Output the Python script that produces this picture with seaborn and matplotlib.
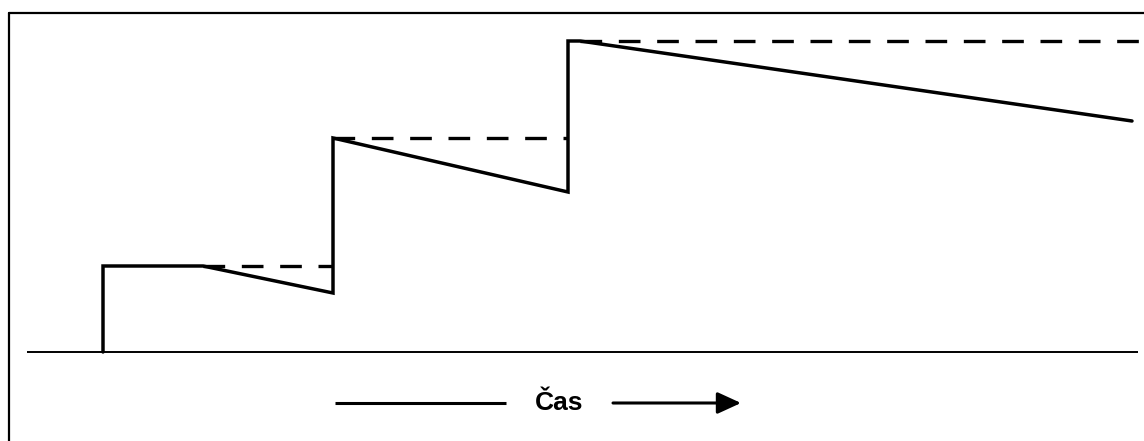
import matplotlib
matplotlib.use("Agg")
import matplotlib.pyplot as plt
import seaborn as sns
import pandas as pd

sns.set_theme(style="white")
plt.rcParams["font.family"] = ["Liberation Sans", "DejaVu Sans"]

# skutecna hladina (s poklesem mezi skoky)
cas = [0.0, 0.0, 10.0, 23.0, 23.0, 46.5, 46.5, 47.7, 102.9]
hladina = [0.0, 8.6, 8.6, 5.9, 21.4, 16.0, 31.1, 31.1, 23.1]

# dosazene maximum (carkovane)
max_hladina = [8.6, 21.4, 31.1]
max_od = [10.0, 23.0, 47.7]
max_do = [23.0, 46.5, 103.8]

df = pd.DataFrame({"cas": cas, "hladina": hladina})

fig = plt.figure(figsize=(11.44, 4.41), dpi=100)
ax = fig.add_axes([0, 0, 1, 1])

ax.set_xlim(-10.3, 104.1)
ax.set_ylim(-8.9, 35.2)

# zakladni cara
ax.plot([-7.6, 103.5], [0, 0], color="black", lw=1.4, solid_capstyle="butt")

ax.hlines(max_hladina, max_od, max_do, colors="black", lw=2.4,
          linestyles=(0, (6.5, 5)))

sns.lineplot(data=df, x="cas", y="hladina", sort=False, estimator=None,
             color="black", lw=2.5, ax=ax)
for ln in ax.get_lines():
    ln.set_solid_joinstyle("miter")

# ramecek
ax.plot([-9.45, -9.45], [-9.5, 33.95], color="black", lw=1.6)
ax.plot([-9.45, 104.5], [33.95, 33.95], color="black", lw=1.6)

# osa casu
ax.plot([23.2, 40.3], [-5.1, -5.1], color="black", lw=2.2, solid_capstyle="butt")
ax.text(45.6, -5.15, "Čas", ha="center", va="center", fontsize=19,
        fontweight="bold", color="black")
ax.annotate("", xy=(63.8, -5.1), xytext=(51.0, -5.1),
            arrowprops=dict(arrowstyle="-|>,head_length=1.2,head_width=0.55",
                            color="black", lw=2.2, shrinkA=0, shrinkB=0))

ax.set_axis_off()
fig.savefig("out.png", dpi=100)
